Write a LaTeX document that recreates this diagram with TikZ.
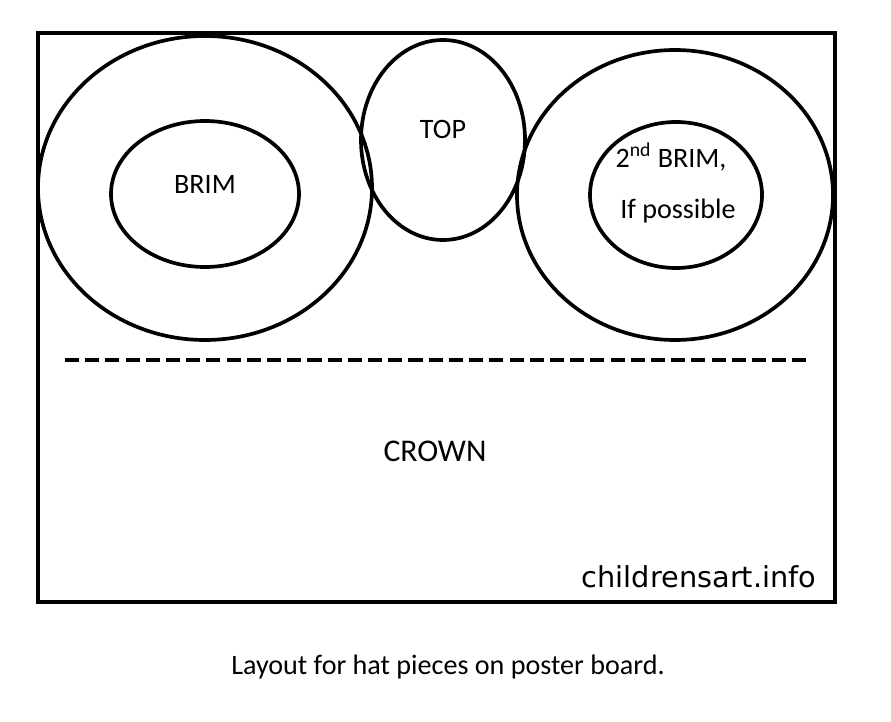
\documentclass[tikz,border=0pt]{standalone}
\usepackage{fontspec}
\setmainfont{Carlito}
\newfontfamily\sitefont{DejaVu Sans}
\begin{document}
\begin{tikzpicture}[x=0.02cm,y=-0.02cm,line width=2.1pt]
            \useasboundingbox (0,0) rectangle (891,722);
            \draw (38,33) rectangle (835,602);

            \draw (205,188) ellipse [x radius=167,y radius=152];
            \draw (205,194) ellipse [x radius=94,y radius=73];
            \node (brim) at (205,184) {\fontsize{16}{18}\selectfont BRIM};

            \draw (443,140) ellipse [x radius=82,y radius=100];
            \node (top) at (443,129) {\fontsize{16}{18}\selectfont TOP};

            \draw (675,195) ellipse [x radius=158,y radius=145];
            \draw (676,195) ellipse [x radius=86,y radius=73];
            \node (brim2) at (671,157) {\fontsize{16}{18}\selectfont 2\textsuperscript{nd} BRIM,};
            \node (possible) at (678,211) {\fontsize{16}{18}\selectfont If possible};

            \draw [line width=2.4pt,dash pattern=on 8pt off 3.5pt] (65,360) -- (808,360);
            \node (crown) at (435,451) {\fontsize{18}{20}\selectfont CROWN};

            \node (site) at (699,577) {\fontsize{16.4}{18}\sitefont childrensart.info};
            \node (caption) at (448,667) {\fontsize{16}{18}\selectfont Layout for hat pieces on poster board.};
          \end{tikzpicture}
\end{document}
